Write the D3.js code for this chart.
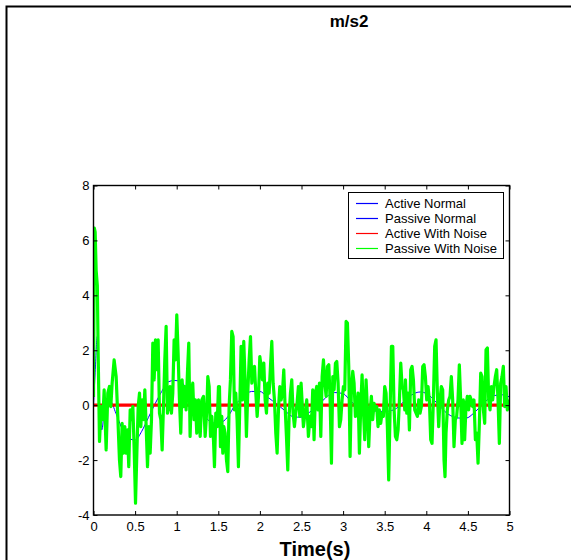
<!DOCTYPE html>
<html>
<head>
<meta charset="utf-8">
<script src="https://cdn.jsdelivr.net/npm/d3@7"></script>
<style>
  html, body { margin: 0; padding: 0; background: #fff; }
  svg { display: block; }
  text { font-family: Arial, "Liberation Sans", Helvetica, sans-serif; }
</style>
</head>
<body>
<svg id="chart" width="571" height="560"></svg>
<script>
// ---- data -------------------------------------------------------------
const xTicks = [0, 0.5, 1, 1.5, 2, 2.5, 3, 3.5, 4, 4.5, 5];
const yTicks = [-4, -2, 0, 2, 4, 6, 8];
const seriesNames = ["Active Normal", "Passive Normal", "Active With Noise", "Passive With Noise"];
const seriesColors = ["#0000ff", "#0000ff", "#ff0000", "#00ff00"];

// Active response (no noise / with noise): held at zero
const activeTime = [0, 5];
const activeNormal = [0, 0];
const activeNoise = [0, 0];

// Passive response without noise
const passiveTime = [0, 0.02, 0.045, 0.07, 0.1, 0.14, 0.2, 0.27, 0.35, 0.43, 0.5, 0.58, 0.66, 0.74, 0.82, 0.9, 0.97, 1.04, 1.12, 1.2, 1.3, 1.38, 1.45, 1.55, 1.62, 1.7, 1.8, 1.9, 2.0, 2.08, 2.22, 2.3, 2.4, 2.5, 2.6, 2.69, 2.8, 2.9, 3.0, 3.1, 3.2, 3.35, 3.49, 3.61, 3.73, 3.85, 3.93, 4.0, 4.13, 4.25, 4.4, 4.48, 4.57, 4.65, 4.73, 4.82, 4.9, 5.0];
const passiveNormal = [0, 1.2, 2.5, 0.2, -0.9, 0.05, 0.15, -0.3, -0.9, -1.22, -1.27, -0.95, -0.45, 0.05, 0.5, 0.85, 0.9, 0.87, 0.6, 0.2, -0.2, -0.55, -0.65, -0.6, -0.4, 0.0, 0.3, 0.5, 0.5, 0.32, 0.0, -0.2, -0.42, -0.44, -0.25, -0.05, 0.3, 0.46, 0.42, 0.12, -0.08, -0.2, -0.23, -0.17, 0.13, 0.42, 0.48, 0.43, 0.07, -0.3, -0.47, -0.47, -0.29, -0.05, 0.19, 0.35, 0.38, 0.3];

// Passive response with noise
const noiseTime = [
  0.000, 0.010, 0.020, 0.032, 0.046, 0.056, 0.072, 0.092, 0.112, 0.128, 0.152, 0.172, 0.192, 0.208, 0.224, 0.248, 0.272, 0.292, 0.312, 0.328,
  0.344, 0.360, 0.376, 0.392, 0.408, 0.424, 0.441, 0.457, 0.473, 0.489, 0.505, 0.521, 0.537, 0.553, 0.569, 0.585, 0.601, 0.617, 0.633, 0.649,
  0.665, 0.681, 0.697, 0.713, 0.729, 0.745, 0.761, 0.777, 0.793, 0.809, 0.825, 0.841, 0.857, 0.873, 0.889, 0.905, 0.921, 0.937, 0.953, 0.969,
  0.985, 1.001, 1.017, 1.033, 1.049, 1.065, 1.081, 1.097, 1.113, 1.129, 1.145, 1.161, 1.177, 1.193, 1.209, 1.225, 1.241,
  1.262, 1.282, 1.302, 1.322, 1.342, 1.362, 1.374, 1.390, 1.406, 1.422, 1.442, 1.454, 1.470, 1.486, 1.502, 1.514, 1.526, 1.542, 1.554, 1.566,
  1.582, 1.598, 1.614, 1.630, 1.646, 1.662, 1.678, 1.694, 1.710, 1.726, 1.742, 1.758, 1.774, 1.790, 1.806, 1.822, 1.838, 1.854, 1.871, 1.887,
  1.903, 1.919, 1.935, 1.951, 1.967, 1.983, 1.999, 2.015, 2.031, 2.047, 2.063, 2.079, 2.095, 2.111, 2.127, 2.143, 2.159, 2.175, 2.191, 2.207,
  2.223, 2.239, 2.255, 2.271, 2.287, 2.303, 2.319, 2.335, 2.351, 2.367, 2.383, 2.399, 2.415, 2.431, 2.447, 2.463, 2.479, 2.495,
  2.523, 2.543, 2.563, 2.583, 2.603, 2.619, 2.635, 2.651, 2.667, 2.683, 2.699, 2.716, 2.732, 2.748, 2.764, 2.780, 2.796, 2.812, 2.828, 2.844,
  2.860, 2.876, 2.892, 2.908, 2.924, 2.940, 2.956, 2.972, 2.988, 3.004, 3.020, 3.036, 3.052, 3.068, 3.084, 3.100, 3.116, 3.132, 3.148, 3.164,
  3.180, 3.196, 3.212, 3.228, 3.244, 3.260, 3.276, 3.292, 3.308, 3.324, 3.340, 3.356, 3.372, 3.388, 3.404, 3.420, 3.436, 3.452, 3.468, 3.484,
  3.500, 3.516, 3.532, 3.548, 3.565, 3.581, 3.597, 3.613, 3.629, 3.645, 3.661, 3.677, 3.693, 3.709, 3.725, 3.741,
  3.749, 3.765, 3.781, 3.797, 3.813, 3.829, 3.845, 3.861, 3.877, 3.893, 3.909, 3.925, 3.941, 3.957, 3.973, 3.989, 4.005, 4.021, 4.037, 4.053,
  4.069, 4.085, 4.101, 4.117, 4.133, 4.149, 4.165, 4.181, 4.197, 4.213, 4.225, 4.237, 4.253, 4.269, 4.285, 4.301, 4.317, 4.333, 4.349, 4.365,
  4.381, 4.397, 4.413, 4.429, 4.445, 4.461, 4.477, 4.493, 4.509, 4.525, 4.541, 4.557, 4.573, 4.590, 4.606, 4.622, 4.638, 4.654, 4.670, 4.686,
  4.702, 4.718, 4.734, 4.750, 4.766, 4.782, 4.798, 4.814, 4.830, 4.846, 4.862, 4.878, 4.894, 4.910, 4.926, 4.942, 4.958, 4.974, 4.990, 5.000
];
const passiveNoise = [
  0.30, 6.45, 6.30, 4.90, 4.35, 1.90, -1.32, -0.05, -0.53, 0.56, -1.63, 0.44, 0.68, -0.05, 0.80, 1.65, 1.05, -0.41, -1.99, -2.60,
  -0.66, -1.75, -0.78, -1.75, -0.90, -2.24, -0.17, -0.53, -0.05, -1.63, -3.57, -1.75, -0.05, 0.44, -0.78, 0.19, -0.53, 0.56, -0.78, -2.24,
  -0.78, -1.75, -0.53, 2.26, 0.92, 2.38, 1.29, 2.38, -0.29, -0.53, -1.63, -0.05, 1.65, 2.87, -0.29, -0.05, 0.68, -0.29, 0.44, 2.38,
  1.65, 3.29, 1.90, 0.19, -1.02, 0.92, -0.05, 0.68, -0.17, 1.17, 2.26, -1.14, 0.44, 0.80, -0.53, 0.19, -1.02,
  0.19, -1.14, 0.19, 0.32, -1.14, -0.17, 1.04, 0.68, -1.14, -0.41, -1.26, -2.24, -0.29, -0.78, 0.68, 0.68, -1.51, -0.41, -1.75, -0.78,
  -1.02, -1.99, -2.42, -0.05, 0.92, 2.69, 2.50, -0.17, 0.44, -0.53, -2.24, -0.05, 2.14, 0.19, 2.32, 0.92, -1.14, 0.44, 1.65, 2.50,
  0.80, 1.29, 1.41, 0.44, -0.41, 0.32, 1.77, 1.41, 0.92, 1.53, 0.19, -0.29, 0.80, 0.44, 1.41, 2.32, 0.80, 0.19, -1.02, -1.75,
  -0.17, 0.68, 0.19, 0.44, 1.29, -0.05, -1.14, -2.36, -0.41, 0.44, 0.92, -0.29, -0.78, -0.29, 0.07, 0.68, -0.41, 0.80,
  -0.78, -0.29, 0.19, -1.14, -0.41, -0.78, 0.56, -1.26, 0.44, 0.68, -0.17, 0.80, -1.14, 1.04, 1.65, 0.80, 0.32, 1.41, 1.47, 0.19,
  -2.11, 1.04, 0.56, 1.53, 1.59, 0.80, -0.78, -0.53, 0.19, 0.68, 0.56, 3.05, 2.99, 1.41, -1.87, 0.68, 1.23, 0.80, -0.41, -0.17,
  0.44, -1.75, -0.05, 1.10, -0.17, -1.26, 0.92, -0.17, -1.51, -0.29, 0.32, -0.53, 0.07, -0.17, -0.05, -0.78, -0.17, -0.66, -0.29, -0.41,
  0.68, 0.44, -0.78, -2.72, -0.17, 2.14, 2.14, -0.17, -1.14, -1.26, -0.90, 0.19, 1.53, 0.68, 0.56, -0.17,
  0.92, -0.29, 0.44, -0.90, 1.29, 1.41, 0.92, -0.17, -0.29, -0.41, 0.19, -0.29, -0.05, 1.41, 1.47, 1.04, 0.19, 0.68, 0.19, -1.26,
  -1.39, 0.19, 2.14, 2.38, 0.44, -0.78, 0.19, 0.68, 0.56, -1.99, -2.60, -1.02, -0.17, 0.19, 0.32, 1.04, 0.19, -1.51, -0.53, -0.41,
  0.19, 1.47, 0.19, -1.39, 0.19, -1.26, -0.05, 0.32, -0.17, 0.32, 0.19, -0.05, 0.19, -1.26, -1.02, -2.11, -0.66, 1.17, 1.04, -0.17,
  -0.66, 2.02, 2.08, 0.19, -0.17, 0.68, 0.19, 0.68, 1.04, 1.29, 0.19, -1.39, 0.80, 1.04, 1.41, -0.05, 0.68, -0.17, 0.07, 0.20
];

// ---- layout -----------------------------------------------------------
const svg = d3.select("#chart");
const plot = { left: 93.5, right: 509.5, top: 185.5, bottom: 515 };

const x = d3.scaleLinear().domain([0, 5]).range([plot.left, plot.right]);
const y = d3.scaleLinear().domain([-4, 8]).range([plot.bottom, plot.top]);

// figure frame
svg.append("rect")
  .attr("x", 6.5).attr("y", 6.5)
  .attr("width", 600).attr("height", 600)
  .attr("fill", "#fff")
  .attr("stroke", "#000").attr("stroke-width", 2);

// title
svg.append("text")
  .attr("x", 349).attr("y", 27)
  .attr("text-anchor", "middle")
  .attr("font-size", 17).attr("font-weight", "bold")
  .text("m/s2");

// ---- series -----------------------------------------------------------
svg.append("clipPath").attr("id", "plotClip")
  .append("rect")
  .attr("x", plot.left).attr("y", plot.top)
  .attr("width", plot.right - plot.left).attr("height", plot.bottom - plot.top);

const zip = (ts, vs) => ts.map((t, i) => [t, vs[i]]);
const straight = d3.line().x(d => x(d[0])).y(d => y(d[1]));
const smooth = d3.line().x(d => x(d[0])).y(d => y(d[1])).curve(d3.curveMonotoneX);

const series = [
  { name: seriesNames[0], color: seriesColors[0], pts: zip(activeTime, activeNormal), gen: straight, width: 1 },
  { name: seriesNames[1], color: seriesColors[1], pts: zip(passiveTime, passiveNormal), gen: smooth, width: 1 },
  { name: seriesNames[2], color: seriesColors[2], pts: zip(activeTime, activeNoise), gen: straight, width: 3.2 },
  { name: seriesNames[3], color: seriesColors[3], pts: zip(noiseTime, passiveNoise), gen: straight, width: 3.2 }
];

svg.append("g").attr("clip-path", "url(#plotClip)")
  .selectAll("path").data(series).join("path")
  .attr("d", s => s.gen(s.pts))
  .attr("fill", "none")
  .attr("stroke", s => s.color)
  .attr("stroke-width", s => s.width)
  .attr("stroke-linejoin", "round");

// ---- axes (box with inward ticks) ---------------------------------------
const tickLen = 4;
const plain = d => String(d);   // keep an ASCII hyphen for negatives
const axes = svg.append("g");

const xb = axes.append("g").attr("transform", `translate(0,${plot.bottom})`)
  .call(d3.axisBottom(x).tickValues(xTicks).tickSize(-tickLen).tickPadding(7).tickFormat(plain));
const xt = axes.append("g").attr("transform", `translate(0,${plot.top})`)
  .call(d3.axisTop(x).tickValues(xTicks).tickSize(-tickLen).tickFormat(""));
const yl = axes.append("g").attr("transform", `translate(${plot.left},0)`)
  .call(d3.axisLeft(y).tickValues(yTicks).tickSize(-tickLen).tickPadding(4).tickFormat(plain));
const yr = axes.append("g").attr("transform", `translate(${plot.right},0)`)
  .call(d3.axisRight(y).tickValues(yTicks).tickSize(-tickLen).tickFormat(""));

[xb, xt, yl, yr].forEach(g => {
  g.select(".domain").remove();
  g.selectAll(".tick line").attr("stroke", "#000").attr("stroke-width", 1);
  g.selectAll(".tick text")
    .attr("fill", "#000")
    .attr("font-size", 13)
    .attr("font-family", "Arial, 'Liberation Sans', sans-serif");
});

axes.append("rect")
  .attr("x", plot.left).attr("y", plot.top)
  .attr("width", plot.right - plot.left).attr("height", plot.bottom - plot.top)
  .attr("fill", "none").attr("stroke", "#000").attr("stroke-width", 1.4);

// x axis label
svg.append("text")
  .attr("x", 315).attr("y", 556)
  .attr("text-anchor", "middle")
  .attr("font-size", 20).attr("font-weight", "bold")
  .text("Time(s)");

// ---- legend -----------------------------------------------------------
const legend = svg.append("g");
legend.append("rect")
  .attr("x", 348.5).attr("y", 192.5)
  .attr("width", 155).attr("height", 66)
  .attr("fill", "#fff").attr("stroke", "#000").attr("stroke-width", 1);

const rowY = d3.scalePoint().domain(seriesNames).range([203.5, 248.5]);
const rows = legend.selectAll("g.row").data(series).join("g")
  .attr("class", "row")
  .attr("transform", s => `translate(0,${rowY(s.name)})`);
rows.append("line")
  .attr("x1", 356).attr("x2", 378).attr("y1", 0).attr("y2", 0)
  .attr("stroke", s => s.color).attr("stroke-width", 1.2);
rows.append("text")
  .attr("x", 385).attr("y", 4.5)
  .attr("font-size", 13)
  .text(s => s.name);
</script>
</body>
</html>
